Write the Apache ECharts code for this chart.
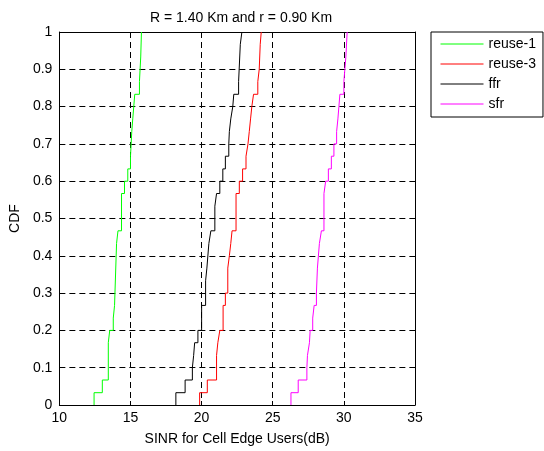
<!DOCTYPE html>
<html>
<head>
<meta charset="utf-8">
<script src="https://cdn.jsdelivr.net/npm/echarts@6/dist/echarts.min.js"></script>
<style>
  html, body { margin: 0; padding: 0; background: #ffffff; }
  #chart { width: 544px; height: 451px; }
</style>
</head>
<body>
<div id="chart"></div>
<script>
// Labels and axis ticks
const chartTitle = 'R = 1.40 Km and r = 0.90 Km';
const xAxisName = 'SINR for Cell Edge Users(dB)';
const yAxisName = 'CDF';
const seriesNames = ['reuse-1', 'reuse-3', 'ffr', 'sfr'];
const seriesColors = ['#00ff00', '#ff0000', '#000000', '#ff00ff'];
const xTicks = [10, 15, 20, 25, 30, 35];
const yTicks = [0, 0.1, 0.2, 0.3, 0.4, 0.5, 0.6, 0.7, 0.8, 0.9, 1];

// Empirical CDFs: SINR (dB) at each jump, and the CDF level reached after it
const reuse1Sinr = [12.44, 13.02, 13.44, 13.54, 13.79, 13.88, 14.02, 14.12, 14.37, 14.58,
                    14.81, 15.00, 15.09, 15.16, 15.30, 15.63, 15.72, 15.77];
const reuse1Cdf  = [0.033, 0.067, 0.167, 0.200, 0.233, 0.267, 0.433, 0.467, 0.567, 0.600,
                    0.633, 0.667, 0.733, 0.767, 0.833, 0.867, 0.933, 1.000];

const reuse3Sinr = [19.86, 20.40, 21.05, 21.14, 21.28, 21.51, 21.67, 21.84, 21.95, 22.05,
                    22.14, 22.42, 22.65, 22.88, 23.12, 23.26, 23.35, 23.44, 23.53, 23.65,
                    23.95, 24.05, 24.12, 24.19];
const reuse3Cdf  = [0.033, 0.067, 0.133, 0.167, 0.200, 0.267, 0.300, 0.367, 0.400, 0.433,
                    0.467, 0.567, 0.600, 0.633, 0.667, 0.700, 0.733, 0.767, 0.800, 0.833,
                    0.867, 0.900, 0.967, 1.000];

const ffrSinr = [18.19, 18.84, 19.35, 19.44, 19.51, 19.74, 20.00, 20.28, 20.37, 20.51,
                 20.65, 20.93, 21.05, 21.28, 21.49, 21.67, 21.91, 21.95, 22.05, 22.19,
                 22.26, 22.60, 22.72, 22.83];
const ffrCdf  = [0.033, 0.067, 0.100, 0.133, 0.167, 0.200, 0.267, 0.333, 0.367, 0.433,
                 0.467, 0.533, 0.567, 0.600, 0.633, 0.667, 0.700, 0.733, 0.767, 0.800,
                 0.833, 0.867, 0.967, 1.000];

const sfrSinr = [26.28, 26.79, 27.40, 27.44, 27.58, 27.63, 27.81, 27.91, 28.07, 28.14,
                 28.28, 28.42, 28.60, 28.72, 28.91, 29.12, 29.30, 29.49, 29.58, 29.65,
                 29.72, 30.00, 30.07, 30.14, 30.23];
const sfrCdf  = [0.033, 0.067, 0.100, 0.133, 0.167, 0.200, 0.233, 0.267, 0.300, 0.367,
                 0.433, 0.467, 0.567, 0.600, 0.633, 0.667, 0.700, 0.733, 0.767, 0.800,
                 0.833, 0.867, 0.900, 0.933, 1.000];

const sinrSets = [reuse1Sinr, reuse3Sinr, ffrSinr, sfrSinr];
const cdfSets = [reuse1Cdf, reuse3Cdf, ffrCdf, sfrCdf];

// Turn jump positions into a staircase path (vertical rise at each jump)
function stairs(xs, cs) {
  const pts = [];
  let prev = 0;
  for (let i = 0; i < xs.length; i++) {
    pts.push([xs[i], prev]);
    pts.push([xs[i], cs[i]]);
    prev = cs[i];
  }
  return pts;
}

const FONT = 'Liberation Sans, Arial, Helvetica, sans-serif';
const xMin = xTicks[0], xMax = xTicks[xTicks.length - 1];
const yMin = yTicks[0], yMax = yTicks[yTicks.length - 1];

const gridDash = {
  show: true,
  lineStyle: { color: '#000000', width: 1, type: [6, 4] }
};

const chart = echarts.init(document.getElementById('chart'), null, { renderer: 'canvas' });

chart.setOption({
  animation: false,
  backgroundColor: '#ffffff',
  title: {
    text: chartTitle,
    left: 236,
    top: 6,
    textAlign: 'center',
    textStyle: { fontFamily: FONT, fontSize: 14, fontWeight: 'normal', color: '#000000' }
  },
  legend: {
    data: seriesNames,
    orient: 'vertical',
    left: 431,
    top: 32,
    padding: [5, 7, 6, 9],
    itemWidth: 43,
    itemHeight: 14,
    itemGap: 6,
    borderColor: '#000000',
    borderWidth: 1,
    backgroundColor: '#ffffff',
    // legend keys are plain line samples, no marker
    itemStyle: { opacity: 0 },
    lineStyle: { width: 1 },
    textStyle: { fontFamily: FONT, fontSize: 14, color: '#000000' }
  },
  grid: { left: 57, right: 129, top: 32, bottom: 42, containLabel: false },
  xAxis: [
    {
      type: 'value',
      min: xMin, max: xMax, interval: 5,
      name: xAxisName,
      nameLocation: 'middle',
      nameGap: 27,
      nameTextStyle: { fontFamily: FONT, fontSize: 14, color: '#000000' },
      axisLine: { show: true, onZero: false, lineStyle: { color: '#000000', width: 1 } },
      axisTick: { show: true, inside: true, length: 4, lineStyle: { color: '#000000' } },
      axisLabel: { fontFamily: FONT, fontSize: 14, color: '#000000', margin: 6 },
      splitLine: gridDash
    },
    {
      type: 'value', position: 'top',
      min: xMin, max: xMax, interval: 5,
      axisLine: { show: true, onZero: false, lineStyle: { color: '#000000', width: 1 } },
      axisTick: { show: true, inside: true, length: 4, lineStyle: { color: '#000000' } },
      axisLabel: { show: false },
      splitLine: { show: false }
    }
  ],
  yAxis: [
    {
      type: 'value',
      min: yMin, max: yMax, interval: 0.1,
      name: yAxisName,
      nameLocation: 'middle',
      nameGap: 35,
      nameRotate: 90,
      nameTextStyle: { fontFamily: FONT, fontSize: 14, color: '#000000' },
      axisLine: { show: true, onZero: false, lineStyle: { color: '#000000', width: 1 } },
      axisTick: { show: true, inside: true, length: 4, lineStyle: { color: '#000000' } },
      axisLabel: { fontFamily: FONT, fontSize: 14, color: '#000000', margin: 7 },
      splitLine: gridDash
    },
    {
      type: 'value', position: 'right',
      min: yMin, max: yMax, interval: 0.1,
      axisLine: { show: true, onZero: false, lineStyle: { color: '#000000', width: 1 } },
      axisTick: { show: true, inside: true, length: 4, lineStyle: { color: '#000000' } },
      axisLabel: { show: false },
      splitLine: { show: false }
    }
  ],
  series: seriesNames.map((name, i) => ({
    name: name,
    type: 'line',
    xAxisIndex: 0,
    yAxisIndex: 0,
    data: stairs(sinrSets[i], cdfSets[i]),
    symbol: 'none',
    showSymbol: false,
    color: seriesColors[i],
    lineStyle: { color: seriesColors[i], width: 1 },
    silent: true,
    z: 3
  }))
});
</script>
</body>
</html>
